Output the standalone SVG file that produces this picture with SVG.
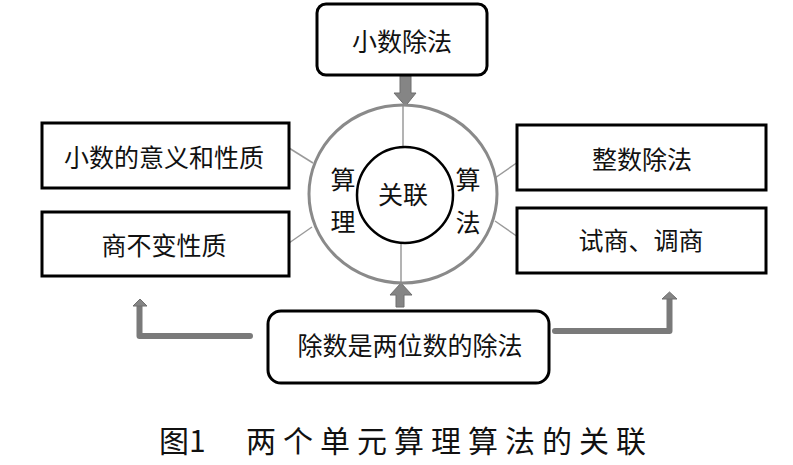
<svg xmlns="http://www.w3.org/2000/svg" width="793" height="465" viewBox="0 0 793 465">
<style>
.box{fill:#fff;stroke:#000;stroke-width:3}
.t{font-family:"Noto Sans CJK SC","Noto Sans CJK JP",sans-serif;font-size:25px;fill:#111;text-anchor:middle}
.line{stroke:#9a9a9a;stroke-width:1.5;fill:none}
.arrow{fill:#858585;stroke:#6e6e6e;stroke-width:1}
.bar{stroke:#7a7a7a;stroke-width:6;fill:none;stroke-linecap:round;stroke-linejoin:round}
.cap{font-family:"Noto Sans CJK SC","Noto Sans CJK JP",serif;font-size:30px;fill:#111}
</style>
<rect width="793" height="465" fill="#fff"/>
<g id="connectors">
<line class="line" x1="403" y1="106" x2="403" y2="147"/>
<line class="line" x1="401" y1="243" x2="401" y2="283"/>
<line class="line" x1="289" y1="148" x2="313" y2="163"/>
<line class="line" x1="289" y1="243" x2="312" y2="227"/>
<line class="line" x1="495" y1="178" x2="518" y2="162"/>
<line class="line" x1="495" y1="221" x2="518" y2="237"/>
<path class="arrow" d="M400,76 H411 V93 H416 L405.5,106 L394,93 H400 Z"/>
<path class="arrow" d="M396,307 V295 H390 L401,283 L412,295 H404 V307 Z"/>
<path class="bar" d="M250,336 H139.5 V306"/>
<path class="arrow" d="M133,306 L140,299 L147,306 Z"/>
<path class="bar" d="M555,331 H669.5 V298"/>
<path class="arrow" d="M662,299 L669.5,292 L677,299 Z"/>
</g>
<g id="ring">
<ellipse cx="403" cy="194" rx="94" ry="89" fill="none" stroke="#8a8a8a" stroke-width="3"/>
<text class="t" x="343" y="189">算</text>
<text class="t" x="343" y="231">理</text>
<text class="t" x="468" y="189">算</text>
<text class="t" x="468" y="232">法</text>
</g>
<g id="center">
<circle cx="405" cy="195" r="48" fill="#fff" stroke="#000" stroke-width="2.5"/>
<text class="t" x="403" y="204">关联</text>
</g>
<g id="top">
<rect class="box" x="317" y="4" width="170" height="71" rx="9"/>
<text class="t" x="402" y="51">小数除法</text>
</g>
<g id="left1">
<rect class="box" x="42" y="123" width="247" height="65"/>
<text class="t" x="164" y="167">小数的意义和性质</text>
</g>
<g id="left2">
<rect class="box" x="42" y="212" width="247" height="64"/>
<text class="t" x="164" y="255">商不变性质</text>
</g>
<g id="right1">
<rect class="box" x="517" y="125" width="249" height="65"/>
<text class="t" x="642" y="169">整数除法</text>
</g>
<g id="right2">
<rect class="box" x="517" y="208" width="249" height="65"/>
<text class="t" x="641" y="250">试商、调商</text>
</g>
<g id="bottom">
<rect class="box" x="268" y="311" width="281" height="72" rx="13"/>
<text class="t" x="410" y="355">除数是两位数的除法</text>
</g>
<g id="caption">
<text class="cap" x="159" y="452">图1</text>
<text class="cap" x="246" y="452" letter-spacing="7">两个单元算理算法的关联</text>
</g>
</svg>
